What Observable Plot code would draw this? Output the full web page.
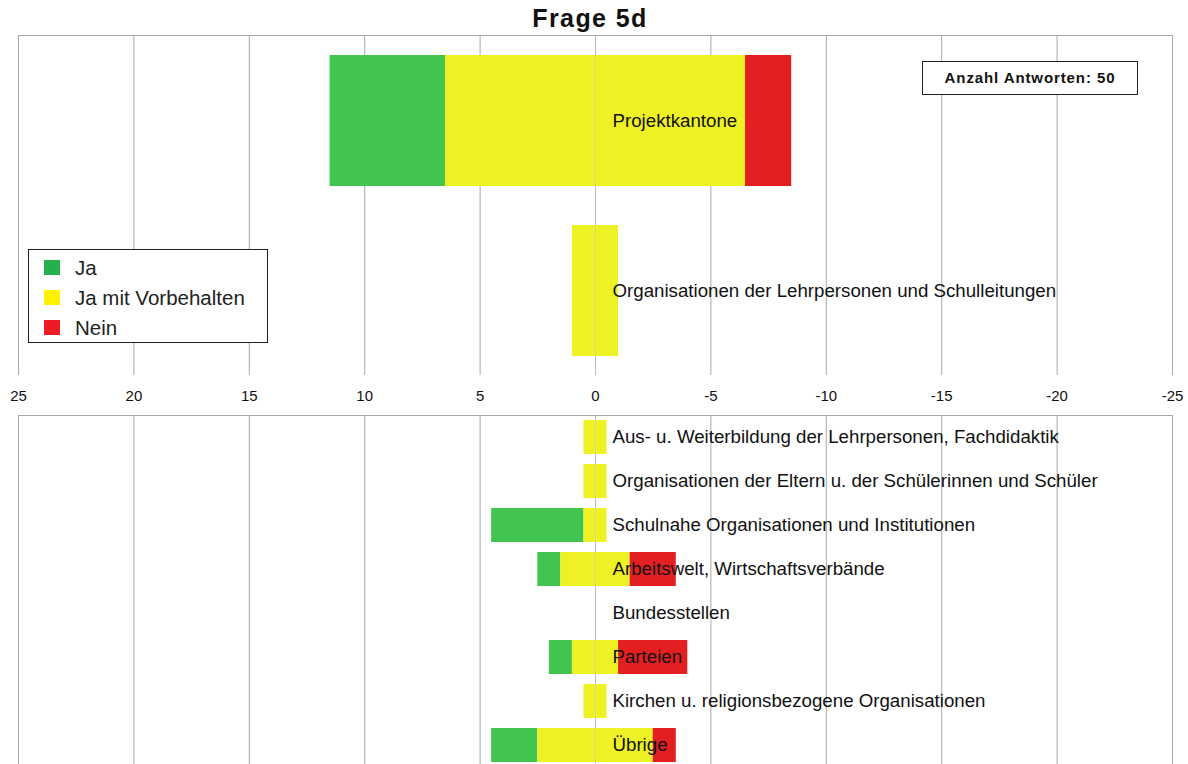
<!DOCTYPE html>
<html>
<head>
<meta charset="utf-8">
<script src="https://cdn.jsdelivr.net/npm/d3@7"></script>
<script src="https://cdn.jsdelivr.net/npm/@observablehq/plot@0.6"></script>
<style>
  html, body { margin: 0; padding: 0; background: #fff; }
  body { font-family: "Liberation Sans", Arial, sans-serif; }
  #wrap { position: relative; width: 1188px; height: 767px; overflow: hidden; }
  #title { position: absolute; left: 0; width: 1180px; top: 4px; text-align: center; font-weight: bold; font-size: 25px; letter-spacing: 1.4px; color: #111; }
  #p1 { position: absolute; left: 0; top: 34px; }
  #p2 { position: absolute; left: 0; top: 414px; }
  #count { position: absolute; left: 922px; top: 61px; width: 216px; height: 34px; border: 1px solid #222; background: #fff; box-sizing: border-box;
           font-weight: bold; font-size: 15px; letter-spacing: 0.9px; line-height: 32px; text-align: center; color: #111; }
  #legend { position: absolute; left: 28px; top: 249px; width: 240px; height: 94px; border: 1px solid #222; background: #fff; box-sizing: border-box; }
  .li { position: absolute; left: 0; height: 24px; font-size: 20.5px; color: #222; }
  .sw { position: absolute; left: 15px; top: 4px; width: 16px; height: 15px; }
  .lt { position: absolute; left: 46px; top: 0; line-height: 24px; white-space: nowrap; }
</style>
</head>
<body>
<div id="wrap">
  <div id="title">Frage 5d</div>
  <div id="p1"></div>
  <div id="p2"></div>
  <div id="count">Anzahl Antworten: 50</div>
  <div id="legend"></div>
</div>
<script>
// ---- data ----
const seriesNames = ["Ja", "Ja mit Vorbehalten", "Nein"];
const barColors = ["#42c54f", "#eef124", "#e41f21"];
const legendColors = ["#22b14c", "#fff200", "#ed1c24"];

const topCats = ["Projektkantone", "Organisationen der Lehrpersonen und Schulleitungen"];
const topJa = [5, 0];
const topJaMV = [13, 2];
const topNein = [2, 0];

const bottomCats = [
  "Aus- u. Weiterbildung der Lehrpersonen, Fachdidaktik",
  "Organisationen der Eltern u. der Schülerinnen und Schüler",
  "Schulnahe Organisationen und Institutionen",
  "Arbeitswelt, Wirtschaftsverbände",
  "Bundesstellen",
  "Parteien",
  "Kirchen u. religionsbezogene Organisationen",
  "Übrige"
];
const bottomJa = [0, 0, 4, 1, 0, 1, 0, 2];
const bottomJaMV = [1, 1, 1, 3, 0, 2, 1, 5];
const bottomNein = [0, 0, 0, 2, 0, 3, 0, 1];

const xTicks = [25, 20, 15, 10, 5, 0, -5, -10, -15, -20, -25];
const totalAnswers = 50;

// ---- build diverging segments (yellow centred on 0) ----
function segments(cats, ja, jmv, nein) {
  const rows = [];
  cats.forEach((c, i) => {
    const h = jmv[i] / 2;
    const parts = [
      {key: 0, x1: h + ja[i], x2: h},
      {key: 1, x1: h, x2: -h},
      {key: 2, x1: -h, x2: -h - nein[i]}
    ];
    parts.forEach(p => { if (p.x1 !== p.x2) rows.push({cat: c, key: p.key, x1: p.x1, x2: p.x2}); });
  });
  return rows;
}

const fontFam = '"Liberation Sans", Arial, sans-serif';
const gridColor = "#a8a8a8";

function panel(cats, rows, height, marginBottom, withAxis) {
  const marks = [
    Plot.ruleX(xTicks, {stroke: gridColor, strokeWidth: 1}),
    Plot.frame({anchor: "top", stroke: gridColor}),
    Plot.barX(rows, {x1: "x1", x2: "x2", y: "cat", fill: d => barColors[d.key]}),
    Plot.ruleX([0], {stroke: "#c8c8c8", strokeOpacity: 0.6}),
    Plot.text(cats, {x: 0, y: d => d, text: d => d, textAnchor: "start", dx: 17, fontSize: 18.7, fill: "#111"})
  ];
  if (withAxis) marks.push(Plot.axisX({anchor: "bottom", ticks: xTicks, tickSize: 0, tickPadding: 15, fontSize: 15, fill: "#111", tickFormat: d => String(d).replace("−", "-")}));
  return Plot.plot({
    width: 1188,
    height,
    marginLeft: 18,
    marginRight: 16,
    marginTop: 1,
    marginBottom,
    style: {fontFamily: fontFam, overflow: "visible", background: "transparent"},
    x: {domain: [25, -25], axis: null},
    y: {domain: cats, paddingInner: 0.23, paddingOuter: 0.115, axis: null},
    marks
  });
}

document.getElementById("p1").appendChild(
  panel(topCats, segments(topCats, topJa, topJaMV, topNein), 381, 40, true)
);
document.getElementById("p2").appendChild(
  panel(bottomCats, segments(bottomCats, bottomJa, bottomJaMV, bottomNein), 353, 0, false)
);

document.getElementById("count").textContent = "Anzahl Antworten: " + totalAnswers;

const legend = document.getElementById("legend");
const tops = [6, 36, 66];
seriesNames.forEach((n, i) => {
  const li = document.createElement("div");
  li.className = "li";
  li.style.top = tops[i] + "px";
  li.innerHTML = `<div class="sw" style="background:${legendColors[i]}"></div><div class="lt">${n}</div>`;
  legend.appendChild(li);
});
</script>
</body>
</html>
